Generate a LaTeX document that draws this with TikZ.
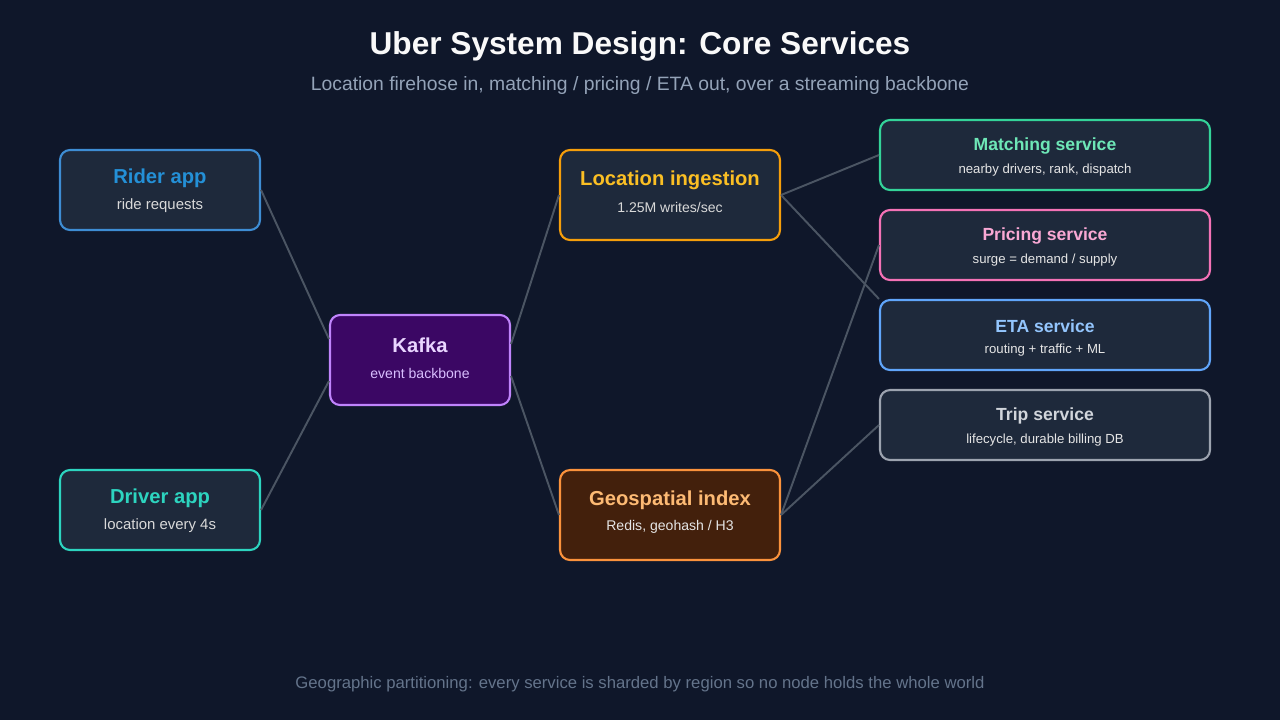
\documentclass[tikz,border=0pt]{standalone}
\usepackage{fontspec}
\setmainfont{Liberation Sans}
\definecolor{bg}{HTML}{0F172A}
\definecolor{boxbg}{HTML}{1E293B}
\definecolor{wire}{HTML}{4B5563}
\begin{document}
\begin{tikzpicture}[x=0.02cm,y=-0.02cm]
  \tikzset{
    box/.style={draw, line width=1.2pt, rounded corners=0.2cm, fill=boxbg, align=center, inner sep=0pt},
    side/.style={box, minimum width=4cm, minimum height=1.6cm},
    mid/.style={box, minimum width=4.4cm, minimum height=1.8cm},
    svc/.style={box, minimum width=6.6cm, minimum height=1.4cm},
    wire/.style={draw=wire, line width=1.1pt}
  }
  \fill[bg] (0,0) rectangle (1280,720);
  \node (title) at (640,46) {\fontsize{18}{20}\selectfont\bfseries\color{white!95!gray} Uber System Design: Core Services};
  \node (subtitle) at (640,86) {\fontsize{11}{13}\selectfont\color[HTML]{94A3B8} Location firehose in, matching / pricing / ETA out, over a streaming backbone};
  % left column
  \node[side, draw=cyan!60!blue!80!white] (rider) at (160,190) {};
  \node[text=cyan!70!blue!90!white] at (160,178) {\fontsize{11.5}{13}\selectfont\bfseries Rider app};
  \node[text=gray!30] at (160,206) {\fontsize{8.5}{10}\selectfont ride requests};
  \node[side, draw={rgb,255:red,45;green,212;blue,191}] (driver) at (160,510) {};
  \node[text={rgb,255:red,45;green,212;blue,191}] at (160,498) {\fontsize{11.5}{13}\selectfont\bfseries Driver app};
  \node[text=gray!30] at (160,526) {\fontsize{8.5}{10}\selectfont location every 4s};
  % backbone
  \node[box, minimum width=3.6cm, minimum height=1.8cm, fill={rgb,255:red,59;green,7;blue,100}, draw={rgb,255:red,192;green,132;blue,252}] (kafka) at (420,360) {};
  \node[text={rgb,255:red,233;green,213;blue,255}] at (420,345) {\fontsize{11.5}{13}\selectfont\bfseries Kafka};
  \node[text={rgb,255:red,216;green,190;blue,254}] at (420,373) {\fontsize{8}{10}\selectfont event backbone};
  % middle column
  \node[mid, draw={rgb,255:red,245;green,158;blue,11}] (ingest) at (670,195) {};
  \node[text={rgb,255:red,251;green,191;blue,36}] at (670,180) {\fontsize{11.5}{13}\selectfont\bfseries Location ingestion};
  \node[text=gray!30] at (670,207) {\fontsize{8}{10}\selectfont 1.25M writes/sec};
  \node[mid, fill={rgb,255:red,67;green,32;blue,12}, draw={rgb,255:red,251;green,146;blue,60}] (geo) at (670,515) {};
  \node[text={rgb,255:red,253;green,186;blue,116}] at (670,500) {\fontsize{11.5}{13}\selectfont\bfseries Geospatial index};
  \node[text=gray!20] at (670,527) {\fontsize{8}{10}\selectfont Redis, geohash / H3};
  % services
  \node[svc, draw={rgb,255:red,52;green,211;blue,153}] (match) at (1045,155) {};
  \node[text={rgb,255:red,110;green,231;blue,183}] at (1045,146) {\fontsize{10}{12}\selectfont\bfseries Matching service};
  \node[text=gray!20] at (1045,170) {\fontsize{7.5}{9}\selectfont nearby drivers, rank, dispatch};
  \node[svc, draw={rgb,255:red,244;green,114;blue,182}] (pricing) at (1045,245) {};
  \node[text={rgb,255:red,249;green,168;blue,212}] at (1045,236) {\fontsize{10}{12}\selectfont\bfseries Pricing service};
  \node[text=gray!20] at (1045,260) {\fontsize{7.5}{9}\selectfont surge = demand / supply};
  \node[svc, draw={rgb,255:red,96;green,165;blue,250}] (eta) at (1045,335) {};
  \node[text={rgb,255:red,147;green,197;blue,253}] at (1045,326) {\fontsize{10}{12}\selectfont\bfseries ETA service};
  \node[text=gray!20] at (1045,350) {\fontsize{7.5}{9}\selectfont routing + traffic + ML};
  \node[svc, draw={rgb,255:red,156;green,163;blue,175}] (trip) at (1045,425) {};
  \node[text={rgb,255:red,209;green,213;blue,219}] at (1045,416) {\fontsize{10}{12}\selectfont\bfseries Trip service};
  \node[text=gray!20] at (1045,440) {\fontsize{7.5}{9}\selectfont lifecycle, durable billing DB};
  % connectors
  \draw[wire] (rider.east) -- (kafka.167);
  \draw[wire] (driver.east) -- (kafka.193);
  \draw[wire] (kafka.10) -- (ingest.west);
  \draw[wire] (kafka.-10) -- (geo.west);
  \draw[wire] (ingest.east) -- (match.west);
  \draw[wire] (ingest.east) -- (eta.north west);
  \draw[wire] (geo.east) -- (pricing.west);
  \draw[wire] (geo.east) -- (trip.west);
  \node (footer) at (640,684) {\fontsize{9.5}{11}\selectfont\color[HTML]{64748B} Geographic partitioning: every service is sharded by region so no node holds the whole world};
\end{tikzpicture}
\end{document}
